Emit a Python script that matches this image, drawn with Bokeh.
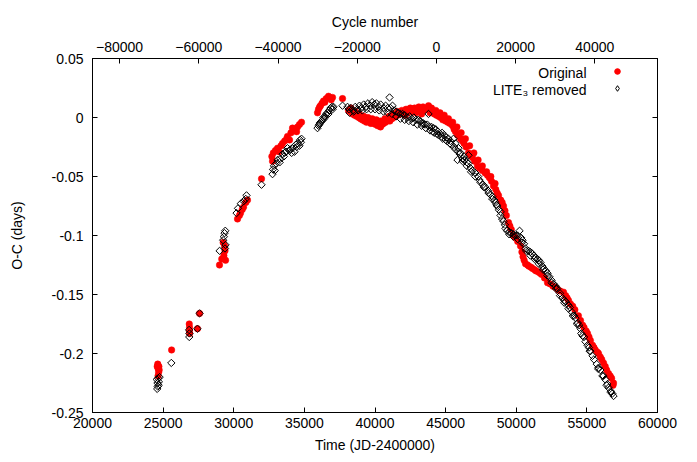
import math
from bokeh.plotting import figure
from bokeh.models import (Range1d, LinearAxis, FixedTicker, PrintfTickFormatter,
                          Legend, LegendItem, Label)
from bokeh.embed import file_html
from bokeh.resources import INLINE

# ---------------- data ----------------
orig_t = [24580, 24620, 24650, 24680, 24700, 24640, 24720, 25600,
          26850, 26870, 26860, 26880, 27430, 27580,
          28990, 29150, 29420, 29300, 29380, 29350, 29250,
          30266, 30400, 30478, 30600, 30691, 30850, 30974, 31965,
          32700, 32744, 32800, 32950, 33098, 33200, 33350, 33452, 33600, 33750, 33806,
          33950, 34050, 34160, 34300, 34450, 34514, 34650, 34797,
          35930, 36000, 36080, 36142, 36250, 36355, 36450, 36550, 36709, 36800, 36900, 36992,
          37700,
          38125, 38250, 38400, 38550, 38700, 38850, 38974, 39100, 39250, 39400, 39550, 39700,
          39895, 40050, 40200, 40390, 40500, 40603, 40750, 40900, 41050, 41200, 41311, 41450,
          41600, 41800, 42000, 42150, 42302, 42500, 42700, 42900, 43100, 43300, 43435, 43600,
          43789, 43900, 44050, 44200, 44350, 44500, 44638, 44800, 45000, 45150, 45300, 45488,
          45600, 45700, 45850, 46054, 46196, 46300, 46450, 46621, 46750, 46900, 47050, 47258,
          47400, 47600, 47800, 47966, 48100, 48250, 48391, 48550, 48650, 48745, 48900, 49000,
          49099, 49200, 49300, 49453, 49550, 49650, 49807, 49950, 50100, 50302, 50400, 50480,
          50560, 50656, 50800, 50900, 51050, 51152, 51300, 51400, 51577, 51700, 51800, 52000,
          52214, 52400, 52600, 52780, 52950, 53100, 53347, 53500, 53600, 53700, 53842, 54000,
          54150, 54400, 54550, 54700, 54800, 54950, 55046, 55150, 55250, 55400, 55500, 55600,
          55750, 55825, 55950, 56050, 56179, 56300, 56400, 56533, 56650, 56750, 56887, 56850,
          38300, 38600, 38900, 39200, 39500, 39800, 40100, 40400, 40700, 41000, 41300, 41600,
          41900, 42200, 42500, 42800, 43100, 43400, 43700, 44000, 44300, 44600, 44900, 45200,
          45500, 45800, 46100, 46400, 46700, 47000, 47300, 47600, 47900, 48200, 48500]
orig_oc = [-0.211, -0.209, -0.213, -0.216, -0.211, -0.219, -0.214, -0.197,
           -0.175, -0.178, -0.181, -0.183, -0.179, -0.166,
           -0.125, -0.120, -0.121, -0.117, -0.113, -0.109, -0.106,
           -0.086, -0.083, -0.081, -0.078, -0.076, -0.072, -0.070, -0.052,
           -0.033, -0.037, -0.030, -0.028, -0.026, -0.029, -0.024, -0.022, -0.020, -0.018, -0.016,
           -0.019, -0.013, -0.009, -0.011, -0.012, -0.008, -0.006, -0.004,
           0.004, 0.007, 0.009, 0.010, 0.012, 0.014, 0.013, 0.016, 0.018, 0.017, 0.015, 0.017,
           0.016,
           0.006, 0.005, 0.003, 0.002, 0.001, 0.000, -0.001, -0.002, -0.003, -0.004, -0.003, -0.005,
           -0.005, -0.006, -0.007, -0.008, -0.006, -0.005, -0.004, -0.002, -0.003, -0.001, 0.000, 0.001,
           0.002, 0.003, 0.003, 0.002, 0.004, 0.005, 0.005, 0.004, 0.006, 0.003, 0.006, 0.007,
           0.010, 0.004, 0.005, 0.003, 0.002, 0.001, 0.000, -0.002, -0.003, -0.004, -0.005, -0.007,
           -0.010, -0.012, -0.015, -0.018, -0.020, -0.022, -0.025, -0.030, -0.032, -0.034, -0.037, -0.041,
           -0.043, -0.045, -0.047, -0.049, -0.051, -0.054, -0.058, -0.061, -0.064, -0.066, -0.070, -0.072,
           -0.075, -0.079, -0.083, -0.089, -0.092, -0.095, -0.100, -0.102, -0.105, -0.109, -0.114, -0.118,
           -0.121, -0.124, -0.125, -0.126, -0.127, -0.128, -0.129, -0.130, -0.131, -0.132, -0.133, -0.136,
           -0.140, -0.141, -0.143, -0.144, -0.146, -0.147, -0.148, -0.151, -0.153, -0.155, -0.158, -0.160,
           -0.163, -0.168, -0.172, -0.176, -0.178, -0.181, -0.183, -0.186, -0.189, -0.193, -0.195, -0.197,
           -0.199, -0.200, -0.203, -0.205, -0.208, -0.211, -0.214, -0.217, -0.219, -0.221, -0.225, -0.227,
           0.008, 0.005, 0.003, 0.001, 0.000, -0.001, -0.002, -0.003, -0.001, 0.001, 0.003, 0.005,
           0.006, 0.007, 0.008, 0.008, 0.009, 0.009, 0.008, 0.008, 0.006, 0.004, 0.002, -0.001,
           -0.004, -0.008, -0.013, -0.018, -0.024, -0.030, -0.036, -0.041, -0.046, -0.050, -0.056]

lite_t = [24550, 24600, 24650, 24700, 24620, 24580, 24680, 24750, 25580,
          26840, 26860, 26850, 27430, 27580,
          29000, 29250, 29300, 29350, 29400, 29420, 29380,
          30200, 30300, 30500, 30700, 30903, 30850, 31965,
          32744, 32780, 32850, 33000, 33098, 33250, 33452, 33550, 33700, 33806, 33950, 34100,
          34160, 34300, 34450, 34514, 34650, 34750, 34797,
          35930, 36000, 36080, 36142, 36220, 36300, 36355, 36450, 36550, 36638, 36750, 36850,
          36950, 37063, 37700,
          38054, 38150, 38300, 38450, 38600, 38750, 38900, 39050, 39200, 39350, 39500, 39650,
          39800, 39950, 40100, 40250, 40400, 40603, 40750, 40900, 41028, 41098, 41240, 41350,
          41500, 41650, 41800, 41950, 42100, 42302, 42450, 42600, 42750, 42900, 43050, 43200,
          43300, 43435, 43550, 43789, 43700, 43850, 44000, 44150, 44300, 44450, 44638, 44750,
          44900, 45050, 45200, 45350, 45559, 45700, 45842, 45913, 46050, 46196, 46350, 46500,
          46621, 46762, 46900, 47100, 47300, 47470, 47650, 47800, 48037, 48150, 48300, 48450,
          48532, 48650, 48750, 48886, 49000, 49100, 49240, 49350, 49500, 49650, 49800, 49950,
          50090, 50232, 50350, 50444, 50550, 50656, 50869, 51000, 51100, 51250, 51364, 51500,
          51600, 51718, 51850, 51950, 52100, 52214, 52350, 52500, 52639, 52800, 52900, 53100,
          53276, 53400, 53500, 53701, 53800, 53950, 54100, 54196, 54350, 54450, 54550, 54692,
          54800, 55046, 55150, 55250, 55400, 55700, 55825, 55950, 56179, 56300, 56450, 56533,
          56700, 56800, 56887,
          38200, 38500, 38800, 39100, 39400, 39700, 40000, 40300, 40600, 40900, 41200, 41500,
          41800, 42100, 42400, 42700, 43000, 43300, 43600, 43900, 44200, 44500, 44800, 45100,
          45400, 45700, 46000, 46300, 46600,
          44100, 44400, 44700, 45000, 45300, 45600, 45900, 46200, 46500, 46800, 47100, 47400,
          47700, 48000, 48300, 48600, 48900, 49200, 49500, 49800, 50100, 50400, 50700, 51000,
          51300, 51600, 51900, 52200, 52500, 52800, 53100, 53400, 53700, 54000, 54300, 54600,
          54900, 55200, 55500, 55800, 56100, 56400, 56700,
          32900, 33300, 33600, 34000, 34400, 34700, 36050, 36400, 36700, 37000]
lite_oc = [-0.222, -0.225, -0.221, -0.224, -0.228, -0.230, -0.227, -0.220, -0.208,
           -0.180, -0.183, -0.186, -0.179, -0.166,
           -0.113, -0.104, -0.101, -0.098, -0.096, -0.108, -0.111,
           -0.081, -0.077, -0.073, -0.071, -0.066, -0.069, -0.057,
           -0.048, -0.044, -0.041, -0.039, -0.036, -0.038, -0.031, -0.033, -0.029, -0.026, -0.028, -0.030,
           -0.026, -0.029, -0.025, -0.022, -0.024, -0.021, -0.018,
           -0.009, -0.007, -0.005, -0.004, -0.003, -0.002, 0.000, 0.001, 0.003, 0.004, 0.006, 0.008,
           0.009, 0.009, 0.010,
           0.009, 0.007, 0.008, 0.006, 0.009, 0.007, 0.010, 0.008, 0.011, 0.009, 0.012, 0.010,
           0.013, 0.011, 0.012, 0.009, 0.011, 0.008, 0.010, 0.008, 0.017, 0.008, 0.010, 0.006,
           0.005, 0.004, 0.003, 0.003, 0.002, 0.000, 0.001, -0.001, 0.000, -0.002, -0.002, -0.003,
           -0.005, -0.005, -0.006, 0.003, -0.006, -0.008, -0.008, -0.009, -0.010, -0.012, -0.014, -0.013,
           -0.015, -0.017, -0.018, -0.020, -0.018, -0.022, -0.036, -0.026, -0.030, -0.035, -0.036, -0.038,
           -0.032, -0.043, -0.045, -0.047, -0.050, -0.055, -0.057, -0.059, -0.064, -0.065, -0.067, -0.070,
           -0.072, -0.075, -0.078, -0.083, -0.086, -0.088, -0.094, -0.096, -0.097, -0.098, -0.099, -0.100,
           -0.100, -0.096, -0.102, -0.104, -0.107, -0.111, -0.113, -0.114, -0.115, -0.117, -0.119, -0.120,
           -0.121, -0.123, -0.126, -0.128, -0.130, -0.132, -0.135, -0.138, -0.141, -0.143, -0.145, -0.149,
           -0.153, -0.155, -0.156, -0.159, -0.161, -0.165, -0.168, -0.170, -0.174, -0.176, -0.179, -0.185,
           -0.186, -0.193, -0.195, -0.198, -0.202, -0.209, -0.212, -0.214, -0.219, -0.222, -0.226, -0.229,
           -0.232, -0.234, -0.236,
           0.004, 0.005, 0.006, 0.006, 0.007, 0.007, 0.007, 0.006, 0.005, 0.004, 0.003, 0.001,
           -0.001, -0.002, -0.003, -0.004, -0.006, -0.007, -0.009, -0.011, -0.013, -0.015, -0.018, -0.020,
           -0.023, -0.027, -0.031, -0.033, -0.039,
           -0.012, -0.014, -0.016, -0.019, -0.022, -0.025, -0.029, -0.037, -0.041, -0.046, -0.050, -0.053,
           -0.059, -0.062, -0.069, -0.074, -0.080, -0.091, -0.099, -0.101, -0.103, -0.106, -0.113, -0.117,
           -0.120, -0.124, -0.129, -0.134, -0.140, -0.145, -0.151, -0.157, -0.162, -0.168, -0.175, -0.183,
           -0.190, -0.198, -0.205, -0.213, -0.219, -0.227, -0.233,
           -0.045, -0.035, -0.030, -0.027, -0.023, -0.019, -0.006, -0.001, 0.003, 0.007]

time_ticks = [20000, 25000, 30000, 35000, 40000, 45000, 50000, 55000, 60000]
oc_ticks = [-0.25, -0.2, -0.15, -0.1, -0.05, 0, 0.05]
cycle_ticks = [-80000, -60000, -40000, -20000, 0, 20000, 40000]
T0 = 44347.0       # epoch (JD-2400000) of cycle 0
PERIOD = 0.28035   # days per cycle

FONT = "Liberation Sans"
FS = "14px"

p = figure(width=697, height=462, output_backend="svg", toolbar_location=None,
           x_range=Range1d(time_ticks[0], time_ticks[-1]),
           y_range=Range1d(oc_ticks[0], oc_ticks[-1]),
           x_axis_label="Time (JD-2400000)", y_axis_label="O-C (days)",
           min_border_left=92, min_border_right=40, min_border_top=58, min_border_bottom=50)
p.xgrid.visible = False
p.ygrid.visible = False
p.outline_line_color = "black"
p.background_fill_color = "white"
p.border_fill_color = "white"

bottom = p.below[0]
left = p.left[0]

p.extra_x_ranges = {"cycle": Range1d((time_ticks[0] - T0) / PERIOD,
                                     (time_ticks[-1] - T0) / PERIOD)}
top = LinearAxis(x_range_name="cycle", axis_label="Cycle number",
                 ticker=FixedTicker(ticks=cycle_ticks))
p.add_layout(top, "above")
right = LinearAxis(ticker=FixedTicker(ticks=oc_ticks), major_label_text_alpha=0,
                   major_label_text_font_size="1px")
p.add_layout(right, "right")

bottom.ticker = FixedTicker(ticks=time_ticks)
left.ticker = FixedTicker(ticks=oc_ticks)
left.formatter = PrintfTickFormatter(format="%g")

for ax in [bottom, left, top, right]:
    ax.axis_line_color = "black"
    ax.major_tick_line_color = "black"
    ax.major_tick_in = 5
    ax.major_tick_out = 0
    ax.minor_tick_line_color = None
    ax.major_label_text_font = FONT
    ax.major_label_text_color = "black"
    ax.axis_label_text_font = FONT
    ax.axis_label_text_font_style = "normal"
    ax.axis_label_text_font_size = FS
    ax.axis_label_text_color = "black"
for ax in [bottom, left, top]:
    ax.major_label_text_font_size = FS

left.major_label_standoff = 9
left.axis_label_standoff = 24
bottom.major_label_standoff = 5
bottom.axis_label_standoff = 6
top.major_label_standoff = 7
top.axis_label_standoff = 9

r1 = p.scatter(orig_t, orig_oc, marker="circle", size=6.5, fill_color="#ff0000",
               line_color="#ff0000", line_width=0.5)
r2 = p.scatter(lite_t, lite_oc, marker="square", angle=math.pi / 4, angle_units="rad",
               size=5.2, fill_color=None, line_color="black", line_width=1)

# legend-only key symbols (a single NaN point, so nothing is drawn in the plot)
NAN = float("nan")
key1 = p.scatter(x=[NAN], y=[NAN], marker="circle", size=5, fill_color="#ff0000",
                 line_color="#ff0000")
key2 = p.scatter(x=[NAN], y=[NAN], marker="diamond", size=7, fill_color=None,
                 line_color="black", line_width=1)

legend = Legend(items=[LegendItem(label=" ", renderers=[key1]),
                       LegendItem(label=" ", renderers=[key2])],
                location=(518, 317), glyph_width=14, glyph_height=14,
                label_height=14, label_width=0, label_standoff=0, spacing=3,
                padding=0, margin=0, border_line_color=None,
                background_fill_alpha=0, label_text_font_size="8px")
p.add_layout(legend)

p.add_layout(Label(x=494, y=340, x_units="screen", y_units="screen", text="Original",
                   text_align="right", text_baseline="middle", text_font=FONT,
                   text_font_size=FS, text_color="black"))
p.add_layout(Label(x=494, y=323, x_units="screen", y_units="screen", text="LITE\u2083 removed",
                   text_align="right", text_baseline="middle", text_font=FONT,
                   text_font_size=FS, text_color="black"))

open("out.html", "w").write(file_html(p, INLINE))
